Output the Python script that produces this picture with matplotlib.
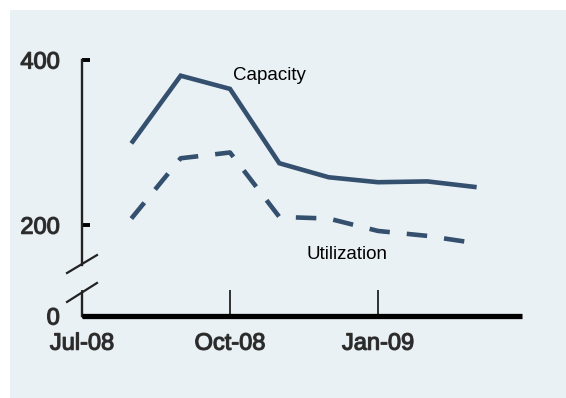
import numpy as np
import matplotlib
matplotlib.use("Agg")
import matplotlib.pyplot as plt
from matplotlib.patches import Rectangle
import matplotlib.patheffects as pe

# ---- data ----
months = [1, 2, 3, 4, 5, 6, 7, 8]  # Aug-08 .. Mar-09 (0 = Jul-08)
capacity = [299, 381, 365, 275, 258, 252, 253, 246]
utilization = [208, 281, 288, 210, 208, 193, 187, 178]
xtick_pos = [0, 3, 6]
xtick_labels = ["Jul-08", "Oct-08", "Jan-09"]
ytick_pos = [0, 200, 400]
ytick_labels = ["0", "200", "400"]

LINE = "#34506e"
BG = "#e9f1f5"

W, H = 566, 398
fig = plt.figure(figsize=(W / 100, H / 100), dpi=100, facecolor="white")
fig.patches.append(Rectangle((10 / W, 0), 1 - 10 / W, (H - 10) / H,
                             transform=fig.transFigure, facecolor=BG,
                             edgecolor="none", zorder=-10))

ax = fig.add_axes([82 / W, (H - 316) / H, (522 - 82) / W, (316 - 60) / H])
ax.set_facecolor("none")


def fwd(v):
    v = np.asarray(v, dtype=float)
    return np.where(v >= 120, v - 90, v * 30 / 120)


def inv(u):
    u = np.asarray(u, dtype=float)
    return np.where(u >= 30, u + 90, u * 120 / 30)


ax.set_yscale("function", functions=(fwd, inv))
ax.set_ylim(0, 400)
ax.set_xlim(0, (522 - 82) / 49.33)

ax.plot(months, capacity, color=LINE, lw=3.3, solid_joinstyle="miter",
        solid_capstyle="butt")
ax.plot(months, utilization, color=LINE, lw=3.3, linestyle=(0, (4.47, 3.72)),
        dash_capstyle="butt")

for s in ["top", "right", "left"]:
    ax.spines[s].set_visible(False)
ax.spines["bottom"].set_linewidth(3.8)
ax.spines["bottom"].set_color("black")
ax.spines["bottom"].set_capstyle("butt")

# y-axis with break
kw = dict(transform=ax.transAxes, color="#222222", clip_on=False)
ax.plot([0, 0], [0.2, 1.0], lw=1.7, **kw)
ax.plot([0, 0], [0.0, 0.09], lw=1.7, **kw)
ax.plot([-0.034, 0.034], [0.168, 0.238], lw=1.6, **kw)
ax.plot([-0.034, 0.034], [0.055, 0.129], lw=1.6, **kw)

ax.set_xticks(xtick_pos)
ax.set_xticklabels(xtick_labels)
ax.set_yticks(ytick_pos)
ax.set_yticklabels(ytick_labels)
ax.yaxis.set_minor_locator(matplotlib.ticker.NullLocator())
ax.tick_params(axis="x", direction="in", length=19, width=1.3, color="#222222",
               pad=12)
ax.tick_params(axis="y", direction="in", length=6, width=2.8, color="black",
               pad=16)
for lab in ax.get_xticklabels() + ax.get_yticklabels():
    lab.set_fontfamily("Liberation Sans")
    lab.set_fontsize(17)
    lab.set_color("#2a2a2a")
    lab.set_path_effects([pe.withStroke(linewidth=0.9, foreground="#3a3a3a")])

ax.text(0.343, 0.941, "Capacity", transform=ax.transAxes, fontsize=13.5,
        family="Liberation Sans", va="center", ha="left", color="black")
ax.text(0.511, 0.24, "Utilization", transform=ax.transAxes, fontsize=13.5,
        family="Liberation Sans", va="center", ha="left", color="black")

fig.savefig("out.png", dpi=100, facecolor="white")
